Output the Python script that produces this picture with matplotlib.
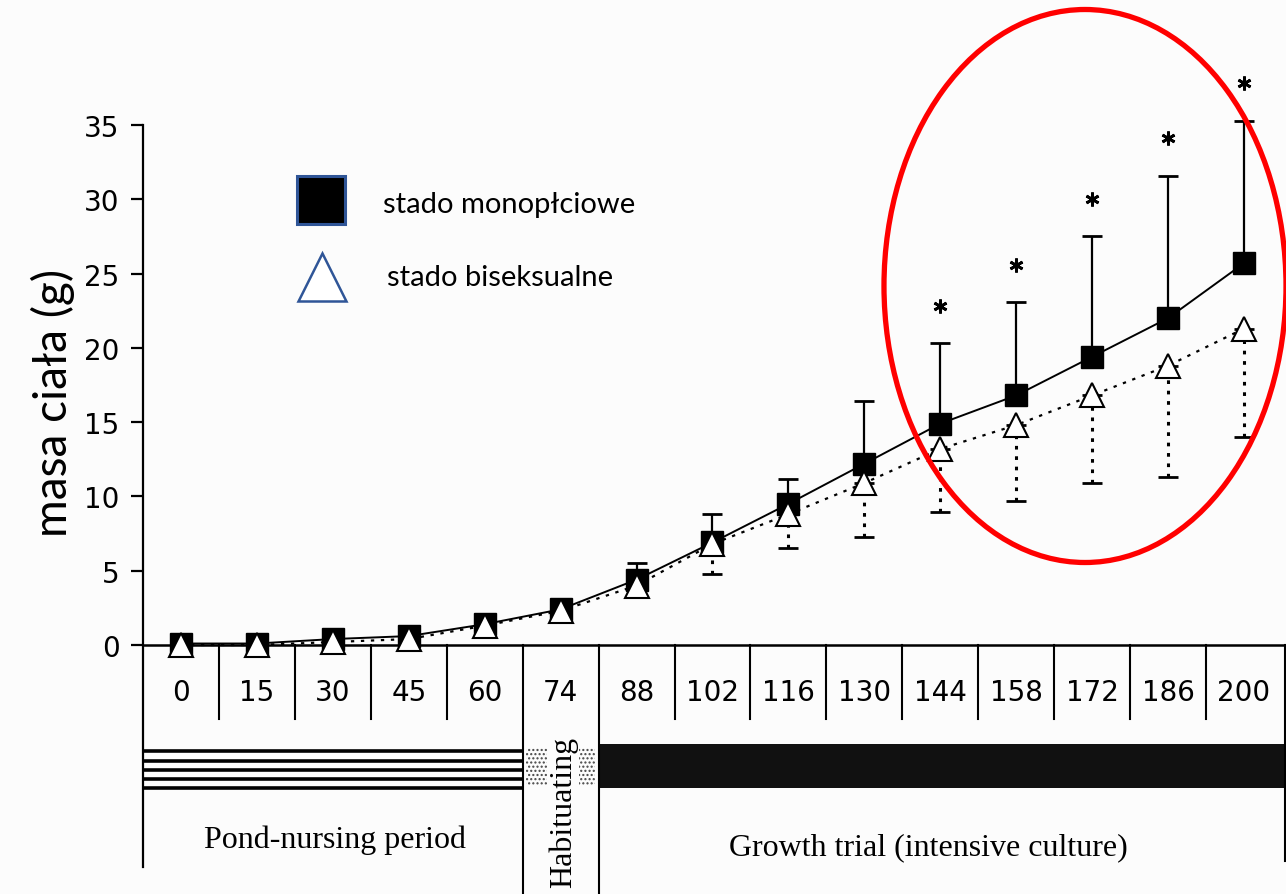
import numpy as np
import matplotlib
matplotlib.use("Agg")
import matplotlib.pyplot as plt
from matplotlib.patches import Ellipse, Rectangle

# sampling days (x axis categories)
days = ["0", "15", "30", "45", "60", "74", "88", "102", "116", "130",
        "144", "158", "172", "186", "200"]

# mean body mass (g)
mono_mean = [0.1, 0.1, 0.4, 0.6, 1.4, 2.4, 4.4, 6.9, 9.5, 12.2, 14.9, 16.8, 19.4, 22.0, 25.7]
bisex_mean = [0.0, 0.0, 0.2, 0.4, 1.3, 2.3, 4.0, 6.8, 8.8, 10.9, 13.2, 14.8, 16.8, 18.8, 21.3]

# standard deviations (upper bars for mono, lower bars for bisex)
mono_sd = [0, 0, 0, 0, 0, 0, 1.1, 1.9, 1.7, 4.2, 5.4, 6.3, 8.1, 9.6, 9.6]
bisex_sd = [0, 0, 0, 0, 0, 0, 0.8, 2.0, 2.3, 3.6, 4.25, 5.1, 5.9, 7.5, 7.3]

# significant differences
signif = [False] * 10 + [True] * 5

periods = ["Pond-nursing period", "Habituating", "Growth trial (intensive culture)"]
legend_labels = ["stado monopłciowe", "stado biseksualne"]

W, H = 1286, 895
fig = plt.figure(figsize=(W / 100, H / 100), dpi=100)
fig.patch.set_facecolor("#fcfcfc")

# pixel helpers for the layout below the axis
Y0, PX_PER_G = 646, 14.857
def py(p):
    return (Y0 - p) / PX_PER_G

ax = fig.add_axes([143 / W, 0, 1 - 143 / W, 1])
ax.set_facecolor("none")
x = np.arange(len(days))
ax.set_xlim(-0.5, (W - 181) / 75.93)
ax.set_ylim(py(H), py(0))

for s in ["top", "right", "bottom"]:
    ax.spines[s].set_visible(False)
ax.spines["left"].set_bounds(py(868), 35)
ax.spines["left"].set_linewidth(1.6)
ax.set_xticks([])
ax.set_yticks(np.arange(0, 36, 5))
ax.tick_params(axis="y", length=9, width=1.6, pad=8, labelsize=20)

ax.axhline(0, color="black", lw=1.8, zorder=2)

fig.text(53 / W, 1 - 403 / H, "masa ciała (g)", rotation=90, ha="center", va="center",
         fontsize=33, family=["Lato", "DejaVu Sans"])

# table under the axis
xr = ax.get_xlim()[1]
for i in range(len(days) - 1):
    b = i + 0.5
    bottom = py(H) if i in (4, 5) else py(720)
    ax.plot([b, b], [0, bottom], color="black", lw=1.5, clip_on=False, zorder=2)
ax.plot([xr - 0.01, xr - 0.01], [0, py(862)], color="black", lw=1.5, clip_on=False)

for i, d in enumerate(days):
    ax.text(i, py(693), d, ha="center", va="center", fontsize=20)

# striped band for pond-nursing
for p in [752, 762, 771, 780, 789]:
    ax.plot([-0.5, 4.5], [py(p), py(p)], color="black", lw=2.6, solid_capstyle="butt")
# stippled band for habituating
ax.add_patch(Rectangle((4.55, py(787)), 0.9, py(748) - py(787), facecolor="none",
                       edgecolor="#444444", hatch="....", lw=0))
# solid band for growth trial
ax.add_patch(Rectangle((5.5, py(789)), xr - 5.5, py(745) - py(789), facecolor="#111111",
                       edgecolor="none"))

ax.text(2.03, py(840), periods[0], ha="center", va="center", fontsize=23,
        family="Liberation Serif")
ax.text(5.03, py(737), periods[1], ha="center", va="top", rotation=90, fontsize=23,
        family="Liberation Serif",
        bbox=dict(facecolor="#fcfcfc", edgecolor="none", pad=1))
ax.text(9.84, py(848), periods[2], ha="center", va="center", fontsize=23,
        family="Liberation Serif")

# error bars
mono_mean = np.array(mono_mean)
bisex_mean = np.array(bisex_mean)
mono_sd = np.array(mono_sd)
bisex_sd = np.array(bisex_sd)
m = mono_sd > 0
ax.errorbar(x[m], mono_mean[m], yerr=[np.zeros(m.sum()), mono_sd[m]], fmt="none",
            ecolor="black", elinewidth=1.6, capsize=7, capthick=2, zorder=3)
m2 = bisex_sd > 0
eb = ax.errorbar(x[m2], bisex_mean[m2], yerr=[bisex_sd[m2], np.zeros(m2.sum())], fmt="none",
                 ecolor="black", elinewidth=2.2, capsize=7, capthick=2, zorder=3)
eb[2][0].set_linestyle((0, (1.2, 2.2)))

# lines and markers
ax.plot(x, mono_mean, color="black", lw=1.4, marker="s", ms=16, mfc="black",
        mec="black", zorder=4)
ax.plot(x, bisex_mean, color="black", lw=1.6, ls=(0, (1.5, 3)), marker="^", ms=17,
        mfc="white", mec="black", mew=1.5, zorder=5)

# asterisks above significant points
for i in range(len(days)):
    if signif[i]:
        ax.plot(i, mono_mean[i] + mono_sd[i] + 2.5, marker=(6, 2, 0), ms=10, mew=2,
                color="black", clip_on=False, zorder=5)

# highlight ellipse
ax.add_patch(Ellipse(((1085 - 181) / 75.93, py(287)), 402 / 75.93, 553 / PX_PER_G,
                     fill=False, edgecolor="#ff0000", lw=3.8, clip_on=False, zorder=6))

# legend (placed in figure pixels)
ft = fig.transFigure
fig.add_artist(plt.Line2D([321 / W], [1 - 201 / H], transform=ft, ls="none", marker="s",
                          ms=35, mfc="black", mec="#2F5597", mew=2.2))
fig.add_artist(plt.Line2D([322 / W], [1 - 278 / H], transform=ft, ls="none", marker="^",
                          ms=34, mfc="white", mec="#2F5597", mew=1.8))
fig.text(383 / W, 1 - 205 / H, legend_labels[0], ha="left", va="center", fontsize=21,
         family="Lato")
fig.text(387 / W, 1 - 278 / H, legend_labels[1], ha="left", va="center", fontsize=21,
         family="Lato")

fig.savefig("out.png", dpi=100, facecolor=fig.get_facecolor())
